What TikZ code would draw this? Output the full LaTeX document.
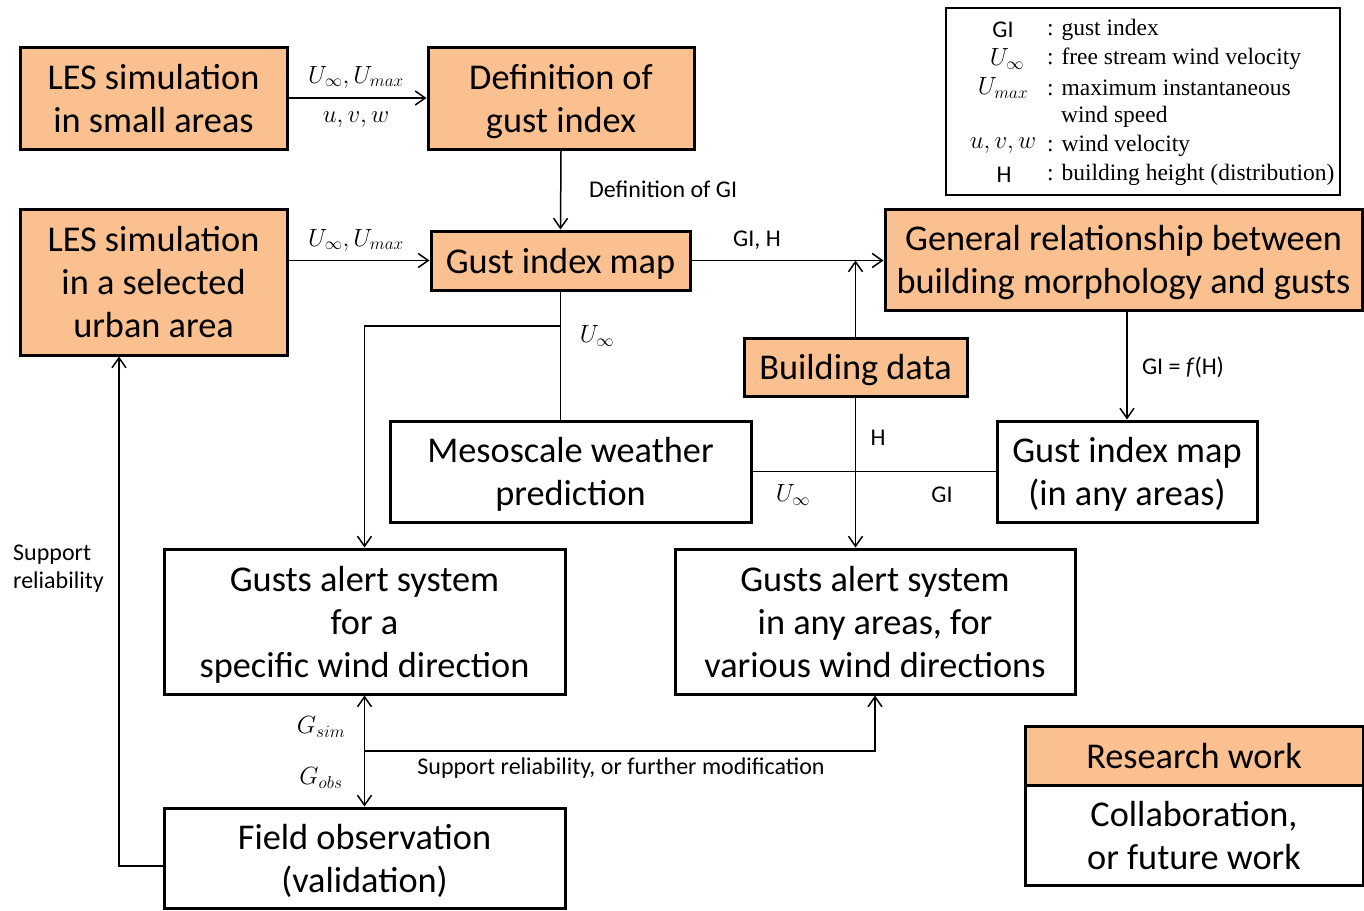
\documentclass[tikz,border=0pt]{standalone}
\usepackage{fontspec}
\setmainfont{Carlito}
\newfontfamily\legfont{Liberation Serif}
\usetikzlibrary{arrows.meta}
\definecolor{boxorange}{HTML}{FAC090}
\tikzset{
  bx/.style={draw=black, line width=3pt, inner sep=0pt, align=center, text depth=0pt,
    font=\fontsize{36.3}{43}\selectfont},
  rbox/.style={bx, fill=boxorange},
  wbox/.style={bx, fill=white},
  conn/.style={line width=1.5pt},
  arr/.style={conn, -{Straight Barb[length=10pt,width=14pt,line width=1.5pt]}},
  darr/.style={conn, {Straight Barb[length=10pt,width=14pt,line width=1.5pt]}-{Straight Barb[length=10pt,width=14pt,line width=1.5pt]}},
  lbl/.style={inner sep=0pt, font=\fontsize{24}{28}\selectfont},
  mlbl/.style={inner sep=0pt, font=\fontsize{23}{27}\selectfont},
  leg/.style={inner sep=0pt, font=\fontsize{23.5}{28}\legfont},
}
\begin{document}
\begin{tikzpicture}[x=1pt,y=-1pt]
\useasboundingbox (0,0) rectangle (1364,910);
% boxes
\node[rbox, minimum width=267, minimum height=102] (les1) at (153.5,98) {LES simulation\\in small areas};
\node[rbox, minimum width=266, minimum height=102] (def) at (561,98) {Definition of\\gust index};
\node[rbox, minimum width=267, minimum height=146] (les2) at (153.5,282) {LES simulation\\in a selected\\urban area};
\node[rbox, minimum width=259, minimum height=59] (gim) at (560.5,260.5) {Gust index map};
\node[rbox, minimum width=477, minimum height=101] (gen) at (1123.5,259.5) {General relationship between\\building morphology and gusts};
\node[rbox, minimum width=223, minimum height=58] (bld) at (855.5,367) {Building data};
\node[wbox, minimum width=361, minimum height=101] (meso) at (570.5,471.5) {Mesoscale weather\\prediction};
\node[wbox, minimum width=260, minimum height=101] (gim2) at (1127,471.5) {Gust index map\\(in any areas)};
\node[wbox, minimum width=401, minimum height=145] (al1) at (364.5,621.5) {Gusts alert system\\for a\\specific wind direction};
\node[wbox, minimum width=400, minimum height=145] (al2) at (875,621.5) {Gusts alert system\\in any areas, for\\various wind directions};
\node[wbox, minimum width=401, minimum height=100] (fld) at (364.5,858) {Field observation\\(validation)};
\node[rbox, minimum width=338, minimum height=59] (res) at (1194,755.5) {Research work};
\node[wbox, minimum width=338, minimum height=100] (col) at (1194,835) {Collaboration,\\or future work};
% legend
\node[draw=black, line width=1.5pt, minimum width=394, minimum height=187, inner sep=0pt] (legbox) at (1143,101.5) {};
\node[lbl] (l1a) at (1003,30) {GI};
\node[leg, anchor=west] (l1b) at (1047,30) {: gust index};
\node[mlbl] (l2a) at (1007,59) {$U_\infty$};
\node[leg, anchor=west] (l2b) at (1047,59) {: free stream wind velocity};
\node[mlbl] (l3a) at (1003,88) {$U_{max}$};
\node[leg, anchor=west] (l3b) at (1047,88) {: maximum instantaneous};
\node[leg, anchor=west] (l3c) at (1061,117) {wind speed};
\node[mlbl] (l4a) at (1003,146) {$u, v, w$};
\node[leg, anchor=west] (l4b) at (1047,146) {: wind velocity};
\node[lbl] (l5a) at (1004,175) {H};
\node[leg, anchor=west] (l5b) at (1047,175) {: building height (distribution)};
% connectors
\draw[arr] (les1.east) -- (def.west);
\node[mlbl] (t1) at (356,77) {$U_\infty, U_{max}$};
\node[mlbl] (t2) at (356,120) {$u, v, w$};
\draw[arr] (def.south) -- (gim.north);
\node[lbl, anchor=west] (t3) at (589,189) {Definition of GI};
\draw[arr] (gim.west -| les2.east) -- (gim.west);
\node[mlbl] (t4) at (356,240) {$U_\infty, U_{max}$};
\draw[arr] (gim.east) -- (gim.east -| gen.west);
\node[lbl] (t5) at (757,240) {GI, H};
\draw[arr] (bld.north) -- (bld.north |- gim.east);
\draw[arr] (bld.south) -- (bld.south |- al2.north);
\node[lbl] (t6) at (878,438) {H};
\draw[conn] (meso.east) -- (gim2.west);
\node[mlbl] (t7) at (793,495) {$U_\infty$};
\node[lbl] (t8) at (942,495) {GI};
\draw[arr] (gim2.north |- gen.south) -- (gim2.north);
\node[lbl] (t9) at (1183,367) {GI = \textit{f}(H)};
\draw[conn] (gim.south) -- (gim.south |- meso.north);
\coordinate (br) at (560.5,326);
\draw[arr] (br) -| (al1.north);
\node[mlbl] (t10) at (597,336) {$U_\infty$};
\draw[darr] (al1.south) -- (fld.north);
\node[mlbl] (t11) at (321,727) {$G_{sim}$};
\node[mlbl] (t12) at (321,778) {$G_{obs}$};
\coordinate (sr) at (364.5,751);
\draw[arr] (sr) -| (al2.south);
\node[lbl] (t13) at (621,768) {Support reliability, or further modification};
\coordinate (fb) at (119,866);
\draw[arr] (fld.west |- fb) -- (fb) -- (fb |- les2.south);
\node[lbl, anchor=west, align=left] (t14) at (13,568.5) {Support\\reliability};
\end{tikzpicture}
\end{document}
